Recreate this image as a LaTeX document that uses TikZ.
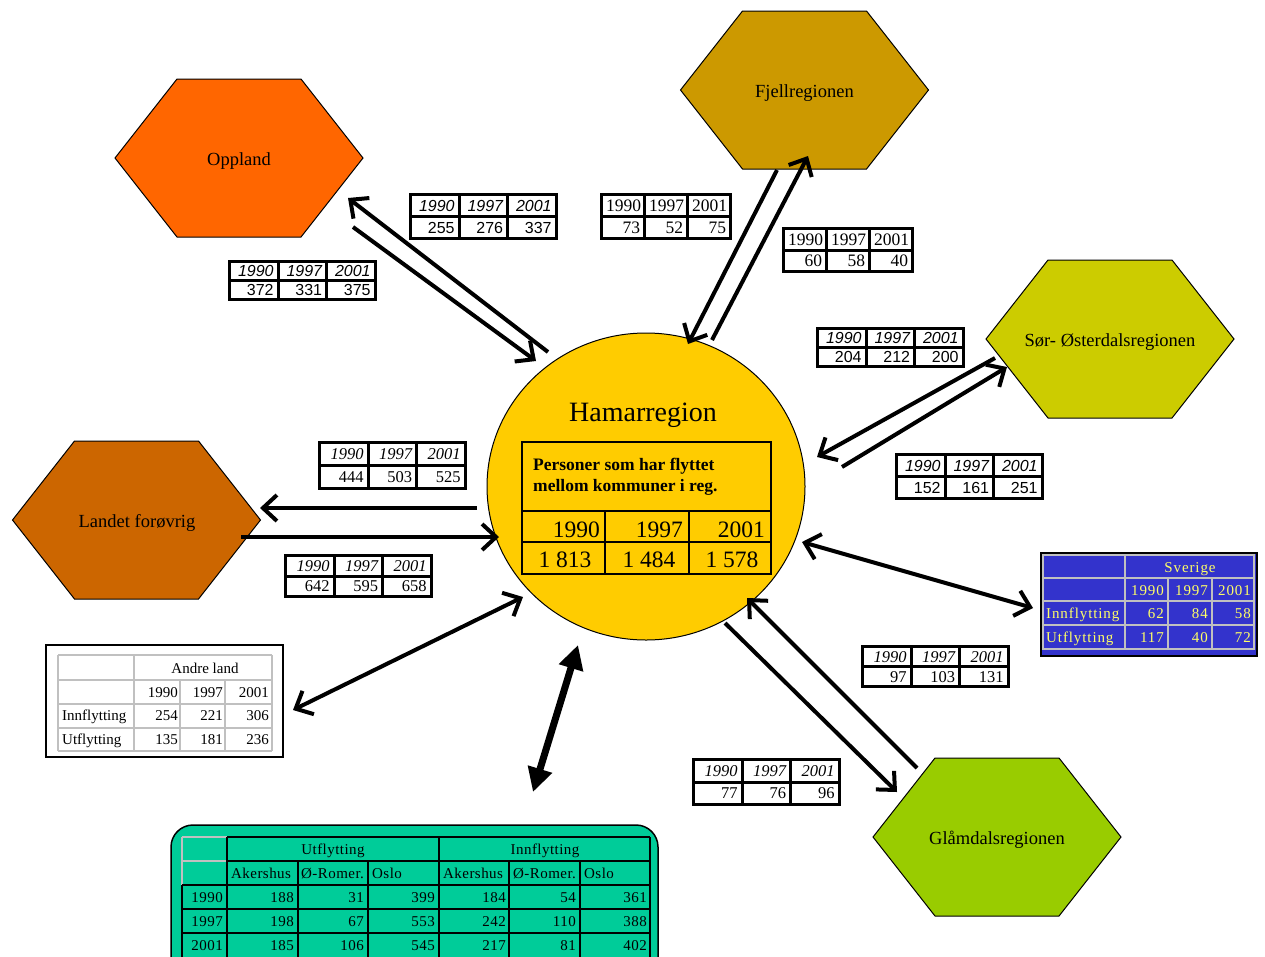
\documentclass[tikz,border=0pt]{standalone}
\usepackage{fontspec}
\setmainfont{Liberation Serif}
\newfontfamily\sansf{Liberation Sans}
\newfontfamily\wideserif[LetterSpace=6]{Liberation Serif}
\newfontfamily\semiwideserif[LetterSpace=3]{Liberation Serif}
\usetikzlibrary{matrix,arrows.meta,shapes.geometric}
\definecolor{cOpp}{HTML}{FF6600}
\definecolor{cFje}{HTML}{CC9900}
\definecolor{cSor}{HTML}{CCCC00}
\definecolor{cLan}{HTML}{CC6600}
\definecolor{cGla}{HTML}{99CC00}
\definecolor{cHam}{HTML}{FFCC00}
\definecolor{cSve}{HTML}{3333CC}
\definecolor{cSvt}{HTML}{FFFF66}
\definecolor{cGrn}{HTML}{00CC99}
\definecolor{cGry}{HTML}{C0C0C0}
\newcommand\fsans{\sansf\fontsize{16}{18}\selectfont}
\newcommand\fsansit{\sansf\itshape\fontsize{16}{18}\selectfont}
\newcommand\fser{\fontsize{17.5}{19}\selectfont}
\newcommand\fserr{\fontsize{16.5}{18}\selectfont}
\newcommand\fserit{\itshape\fontsize{16.5}{18}\selectfont}
\newcommand\hexfill[3]{\draw[hexa, fill=#1, shift={(#2,#3)}] (-124,0) -- (-62,-79) -- (62,-79) -- (124,0) -- (62,79) -- (-62,79) -- cycle;}
\begin{document}
\begin{tikzpicture}[x=1pt, y=-1pt,
  hexa/.style={draw=black, line width=1pt},
  hexlabel/.style={font=\fontsize{18.5}{20}\selectfont, inner sep=0pt, anchor=base},
  arr/.style={line width=4pt, -{Straight Barb[length=14pt,width=26pt]}},
  darr/.style={line width=4pt, {Straight Barb[length=14pt,width=26pt]}-{Straight Barb[length=14pt,width=26pt]}},
  tarr/.style={line width=7pt, {Triangle[length=24pt,width=24pt]}-{Triangle[length=24pt,width=24pt]}},
  ytab/.style={matrix of nodes, anchor=north west, column sep=-2.8pt, row sep=-2.8pt, inner sep=0pt,
     nodes={draw, line width=2.8pt, text width=#1, align=right, inner xsep=4.5pt, inner ysep=0pt, fill=white}},
  tabS/.style={ytab=39.5pt, nodes={font=\fsans}, row 1/.style={nodes={font=\fsansit}}},
  tabF/.style={ytab=34pt, nodes={font=\fser}},
  tabI/.style={ytab=39.5pt, nodes={font=\fserr}, row 1/.style={nodes={font=\fserit}}},
  svt/.style={text=cSvt, font=\wideserif\fontsize{15}{17}\selectfont, inner sep=0pt},
  alt/.style={font=\fontsize{15}{17}\selectfont, inner sep=0pt},
  gt/.style={font=\semiwideserif\fontsize{15}{17}\selectfont, inner sep=0pt},
  hamyr/.style={font=\fontsize{23.5}{26}\selectfont, inner sep=0pt}
]
\useasboundingbox (0,0) rectangle (1265,956);
\fill[white] (0,0) rectangle (1265,956);

% ---------- hexagons ----------
\hexfill{cOpp}{239}{158}
\node[hexlabel] (opp) at (239,165) {Oppland};
\hexfill{cFje}{804.5}{90}
\node[hexlabel] (fje) at (804.5,97) {Fjellregionen};
\hexfill{cSor}{1110}{339}
\node[hexlabel] (sor) at (1110,346) {Sør- Østerdalsregionen};
\hexfill{cLan}{136.5}{520}
\node[hexlabel] (lan) at (137,527) {Landet forøvrig};
\hexfill{cGla}{997}{837}
\node[hexlabel] (gla) at (997,844) {Glåmdalsregionen};

% ---------- Hamarregion ----------
\node[draw, line width=1pt, fill=cHam, ellipse, minimum width=318pt, minimum height=307pt, inner sep=0pt] (hamar) at (646,486.5) {};
\node[font=\fontsize{28}{30}\selectfont, inner sep=0pt, anchor=base] (hamtitle) at (643,421) {Hamarregion};
\draw[line width=2.8pt] (522,442) rectangle (771,574);
\draw[line width=2.8pt] (522,511) -- (771,511) (522,542) -- (771,542) (605,511) -- (605,574) (689,511) -- (689,574);
\node[font=\bfseries\fontsize{17.5}{21.5}\selectfont, inner sep=0pt, anchor=west, align=left] (hamhead) at (533,477) {Personer som har flyttet\\mellom kommuner i reg.};
\node[hamyr, anchor=base east] (hy1) at (600,537) {1990};
\node[hamyr, anchor=base east] (hy2) at (683,537) {1997};
\node[hamyr, anchor=base east] (hy3) at (765,537) {2001};
\node[hamyr, anchor=base] (hv1) at (565,567) {1 813};
\node[hamyr, anchor=base] (hv2) at (649,567) {1 484};
\node[hamyr, anchor=base] (hv3) at (732,567) {1 578};

% ---------- arrow end points ----------
\coordinate (o1a) at (548,352); \coordinate (o1b) at (348,198);
\coordinate (o2a) at (353,227); \coordinate (o2b) at (536,361);
\coordinate (f1a) at (777,170); \coordinate (f1b) at (688,344);
\coordinate (f2a) at (712,340); \coordinate (f2b) at (808,156);
\coordinate (s1a) at (995,358); \coordinate (s1b) at (817,457);
\coordinate (s2a) at (842,467); \coordinate (s2b) at (1007,367);
\coordinate (l1a) at (477,508); \coordinate (l1b) at (260,508);
\coordinate (l2a) at (241,537); \coordinate (l2b) at (499,537);
\coordinate (g1a) at (725,623); \coordinate (g1b) at (897,792);
\coordinate (g2a) at (917,768); \coordinate (g2b) at (747,598);
\coordinate (sva) at (802,542); \coordinate (svb) at (1033,608);
\coordinate (ana) at (523,597); \coordinate (anb) at (293,710);
\coordinate (bta) at (578,645); \coordinate (btb) at (533,792);

\draw[arr] (o1a) -- (o1b);
\draw[arr] (o2a) -- (o2b);
\draw[arr] (f1a) -- (f1b);
\draw[arr] (f2a) -- (f2b);
\draw[arr] (s1a) -- (s1b);
\draw[arr] (s2a) -- (s2b);
\draw[arr] (l1a) -- (l1b);
\draw[arr] (l2a) -- (l2b);
\draw[arr] (g1a) -- (g1b);
\draw[arr] (g2a) -- (g2b);
\draw[darr] (sva) -- (svb);
\draw[darr] (ana) -- (anb);
\draw[tarr] (bta) -- (btb);

% ---------- small tables ----------
\matrix[tabS, nodes={minimum height=22pt}] (opT1) at (409,193) {1990 & 1997 & 2001 \\ 255 & 276 & 337 \\};
\matrix[tabS, nodes={minimum height=19pt}] (opT2) at (228,260) {1990 & 1997 & 2001 \\ 372 & 331 & 375 \\};
\matrix[tabF, nodes={minimum height=22pt}] (fjT1) at (600,193) {1990 & 1997 & 2001 \\ 73 & 52 & 75 \\};
\matrix[tabF, nodes={minimum height=21.5pt}] (fjT2) at (782,227) {1990 & 1997 & 2001 \\ 60 & 58 & 40 \\};
\matrix[tabS, nodes={minimum height=19pt}] (soT1) at (816,327) {1990 & 1997 & 2001 \\ 204 & 212 & 200 \\};
\matrix[tabS, nodes={minimum height=22pt}] (soT2) at (895,453) {1990 & 1997 & 2001 \\ 152 & 161 & 251 \\};
\matrix[tabI, nodes={minimum height=23pt}] (laT1) at (318,441) {1990 & 1997 & 2001 \\ 444 & 503 & 525 \\};
\matrix[tabI, nodes={minimum height=20.5pt}] (laT2) at (284,554) {1990 & 1997 & 2001 \\ 642 & 595 & 658 \\};
\matrix[tabI, nodes={minimum height=20pt}] (glT1) at (861,645) {1990 & 1997 & 2001 \\ 97 & 103 & 131 \\};
\matrix[tabI, nodes={minimum height=22.5pt}] (glT2) at (692,758) {1990 & 1997 & 2001 \\ 77 & 76 & 96 \\};

% ---------- Sverige ----------
\fill[cSve] (1041,553) rectangle (1257,656);
\draw[line width=1.2pt] (1041,553) rectangle (1257,656);
\draw[cGry, line width=2.2pt] (1042,555) -- (1255,555) (1042,578) -- (1255,578) (1042,601) -- (1255,601)
  (1042,625) -- (1255,625) (1042,649) -- (1255,649)
  (1043,555) -- (1043,649) (1125,555) -- (1125,649) (1168,578) -- (1168,649) (1212,578) -- (1212,649) (1254,555) -- (1254,649);
\node[svt, anchor=base] (sv-h) at (1190,572) {Sverige};
\node[svt, anchor=base east] (sv-y1) at (1164,595) {1990};
\node[svt, anchor=base east] (sv-y2) at (1208,595) {1997};
\node[svt, anchor=base east] (sv-y3) at (1251,595) {2001};
\node[svt, anchor=base west] (sv-in) at (1046,618) {Innflytting};
\node[svt, anchor=base east] (sv-i1) at (1164,618) {62};
\node[svt, anchor=base east] (sv-i2) at (1208,618) {84};
\node[svt, anchor=base east] (sv-i3) at (1251,618) {58};
\node[svt, anchor=base west] (sv-ut) at (1046,642) {Utflytting};
\node[svt, anchor=base east] (sv-u1) at (1164,642) {117};
\node[svt, anchor=base east] (sv-u2) at (1208,642) {40};
\node[svt, anchor=base east] (sv-u3) at (1251,642) {72};

% ---------- Andre land ----------
\draw[line width=1.5pt, fill=white] (46,645) rectangle (283,757);
\draw[cGry, line width=2.2pt] (58,655) -- (272,655) (58,680) -- (272,680) (58,704) -- (272,704) (58,728) -- (272,728) (58,751) -- (272,751)
  (58,655) -- (58,751) (134,655) -- (134,751) (180,680) -- (180,751) (225,680) -- (225,751) (272,655) -- (272,751);
\node[alt, anchor=base] (an-h) at (205,673) {Andre land};
\node[alt, anchor=base east] (an-y1) at (178,697) {1990};
\node[alt, anchor=base east] (an-y2) at (223,697) {1997};
\node[alt, anchor=base east] (an-y3) at (269,697) {2001};
\node[alt, anchor=base west] (an-in) at (62,720) {Innflytting};
\node[alt, anchor=base east] (an-i1) at (178,720) {254};
\node[alt, anchor=base east] (an-i2) at (223,720) {221};
\node[alt, anchor=base east] (an-i3) at (269,720) {306};
\node[alt, anchor=base west] (an-ut) at (62,744) {Utflytting};
\node[alt, anchor=base east] (an-u1) at (178,744) {135};
\node[alt, anchor=base east] (an-u2) at (223,744) {181};
\node[alt, anchor=base east] (an-u3) at (269,744) {236};

% ---------- bottom table ----------
\draw[line width=1.5pt, fill=cGrn, rounded corners=22pt] (171,825) rectangle (658,1000);
\draw[cGry, line width=2.5pt] (182,837) -- (227,837) (182,861) -- (227,861) (182,837) -- (182,885);
\draw[line width=2.5pt] (227,837) -- (650,837) (227,861) -- (650,861) (182,885) -- (650,885) (182,909) -- (650,909) (182,933) -- (650,933)
  (227,837) -- (227,960) (439,837) -- (439,960) (650,837) -- (650,960)
  (298,861) -- (298,960) (368,861) -- (368,960) (509,861) -- (509,960) (580,861) -- (580,960) (182,885) -- (182,960);
\node[gt, anchor=base] (g-ut) at (333,854) {Utflytting};
\node[gt, anchor=base] (g-in) at (545,854) {Innflytting};
\node[gt, anchor=base west] (g-c1) at (231,878) {Akershus};
\node[gt, anchor=base west] (g-c2) at (301,878) {Ø-Romer.};
\node[gt, anchor=base west] (g-c3) at (372,878) {Oslo};
\node[gt, anchor=base west] (g-c4) at (443,878) {Akershus};
\node[gt, anchor=base west] (g-c5) at (513,878) {Ø-Romer.};
\node[gt, anchor=base west] (g-c6) at (584,878) {Oslo};
\foreach \yr/\va/\vb/\vc/\vd/\ve/\vf [count=\i] in {1990/188/31/399/184/54/361, 1997/198/67/553/242/110/388, 2001/185/106/545/217/81/402} {
  \pgfmathsetmacro{\bl}{878+24*\i}
  \node[gt, anchor=base east] (g-\i-0) at (223,\bl) {\yr};
  \node[gt, anchor=base east] (g-\i-1) at (294,\bl) {\va};
  \node[gt, anchor=base east] (g-\i-2) at (364,\bl) {\vb};
  \node[gt, anchor=base east] (g-\i-3) at (435,\bl) {\vc};
  \node[gt, anchor=base east] (g-\i-4) at (506,\bl) {\vd};
  \node[gt, anchor=base east] (g-\i-5) at (576,\bl) {\ve};
  \node[gt, anchor=base east] (g-\i-6) at (647,\bl) {\vf};
}
\end{tikzpicture}
\end{document}
